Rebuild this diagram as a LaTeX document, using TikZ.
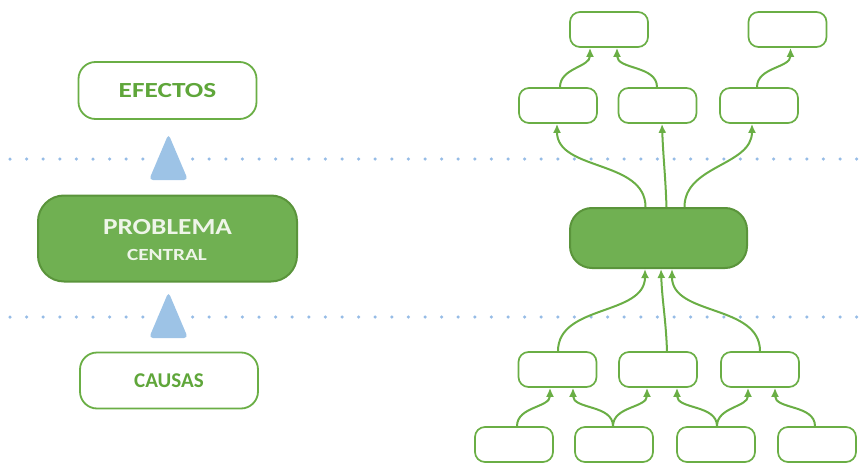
\documentclass[tikz,border=0pt]{standalone}
\usepackage{fontspec}
\setmainfont{Carlito}
\newfontfamily\wideA[FakeStretch=1.27]{Carlito}
\newfontfamily\wideB[FakeStretch=1.19]{Carlito}
\newfontfamily\wideC[FakeStretch=1.25]{Carlito}
\usetikzlibrary{arrows.meta}
\definecolor{gline}{HTML}{6AAE45}
\definecolor{gfill}{HTML}{70B052}
\definecolor{gtext}{HTML}{5FA63A}
\definecolor{bluetri}{HTML}{9DC3E6}
\definecolor{dotc}{HTML}{96BCE6}
\definecolor{ptext}{HTML}{EEF5E8}
\begin{document}
\begin{tikzpicture}[x=1pt,y=-1pt,
  bigbox/.style={draw=gline,line width=1.8pt,rounded corners=17pt,minimum width=178pt,minimum height=57pt,inner sep=0pt,fill=white,text=gtext},
  mainbox/.style={draw=gline!85!black,line width=2pt,rounded corners=26pt,fill=gfill,inner sep=0pt},
  smallbox/.style={draw=gline,line width=1.7pt,rounded corners=10pt,minimum width=78pt,minimum height=35pt,inner sep=0pt,fill=white},
  arr/.style={draw=gline,line width=2pt,-{Latex[length=9pt,width=8pt]}},
  dotline/.style={dotc,line width=3.5pt,line cap=round,dash pattern=on 0pt off 16.6pt},
  tri/.style={fill=bluetri,rounded corners=4pt},
  ptxt/.style={text=ptext,inner sep=0pt}
]
\useasboundingbox (0,0) rectangle (860,463);
% dotted lines
\coordinate (d1a) at (10,159); \coordinate (d1b) at (860,159);
\coordinate (d2a) at (10,317); \coordinate (d2b) at (860,317);
\draw[dotline] (d1a) -- (d1b);
\draw[dotline] (d2a) -- (d2b);
% left column
\node[bigbox,font=\wideA\bfseries\fontsize{21.5}{23}\selectfont] (efectos) at (167.5,90.5) {EFECTOS};
\node[mainbox,minimum width=259pt,minimum height=86pt] (problema) at (167.5,238.5) {};
\node[ptxt,font=\wideB\bfseries\fontsize{23}{24}\selectfont] (pt1) at (167.5,227.5) {PROBLEMA};
\node[ptxt,font=\wideC\bfseries\fontsize{17}{18}\selectfont] (pt2) at (167,254.5) {CENTRAL};
\node[bigbox,font=\bfseries\fontsize{21}{22}\selectfont,minimum height=56pt] (causas) at (169,380.5) {CAUSAS};
\path[tri] (168.5,134) -- (188,180) -- (149,180) -- cycle;
\path[tri] (168.5,292) -- (188,338) -- (149,338) -- cycle;
% right tree
\node[smallbox] (t1) at (609,29.5) {};
\node[smallbox] (t2) at (787.5,29.5) {};
\node[smallbox] (m1) at (558,105.5) {};
\node[smallbox] (m2) at (657.5,105.5) {};
\node[smallbox] (m3) at (759,105.5) {};
\node[mainbox,minimum width=177pt,minimum height=60pt,rounded corners=22pt] (c) at (658.5,238) {};
\node[smallbox] (l1) at (557.5,369.5) {};
\node[smallbox] (l2) at (658,369.5) {};
\node[smallbox] (l3) at (760,369.5) {};
\node[smallbox] (b1) at (514,444.5) {};
\node[smallbox] (b2) at (614,444.5) {};
\node[smallbox] (b3) at (716,444.5) {};
\node[smallbox] (b4) at (817,444.5) {};
% effects arrows
\draw[arr] ([xshift=2pt]m1.north) to[out=90,in=-90] ([xshift=-19pt]t1.south);
\draw[arr] ([xshift=-0.5pt]m2.north) to[out=90,in=-90] ([xshift=8pt]t1.south);
\draw[arr] ([xshift=-2pt]m3.north) to[out=90,in=-90] ([xshift=3pt]t2.south);
\draw[arr] ([xshift=-13pt]c.north) to[out=90,in=-90] ([xshift=-1pt]m1.south);
\draw[arr] ([xshift=8pt]c.north) to[out=92,in=-88] ([xshift=4.5pt]m2.south);
\draw[arr] ([xshift=26pt]c.north) to[out=90,in=-90] ([xshift=-7pt]m3.south);
% causes arrows
\draw[arr] ([xshift=0.5pt]l1.north) to[out=90,in=-90] ([xshift=-13.5pt]c.south);
\draw[arr] ([xshift=9pt]l2.north) to[out=92,in=-88] ([xshift=2.5pt]c.south);
\draw[arr] ([xshift=0pt]l3.north) to[out=90,in=-90] ([xshift=13.5pt]c.south);
\draw[arr] ([xshift=3pt]b1.north) to[out=90,in=-90] ([xshift=-7.5pt]l1.south);
\draw[arr] ([xshift=-1pt]b2.north) to[out=90,in=-90] ([xshift=15.5pt]l1.south);
\draw[arr] ([xshift=-1pt]b2.north) to[out=90,in=-90] ([xshift=-11pt]l2.south);
\draw[arr] ([xshift=1pt]b3.north) to[out=90,in=-90] ([xshift=19pt]l2.south);
\draw[arr] ([xshift=1pt]b3.north) to[out=90,in=-90] ([xshift=-12pt]l3.south);
\draw[arr] ([xshift=-2pt]b4.north) to[out=90,in=-90] ([xshift=15pt]l3.south);
\end{tikzpicture}
\end{document}
